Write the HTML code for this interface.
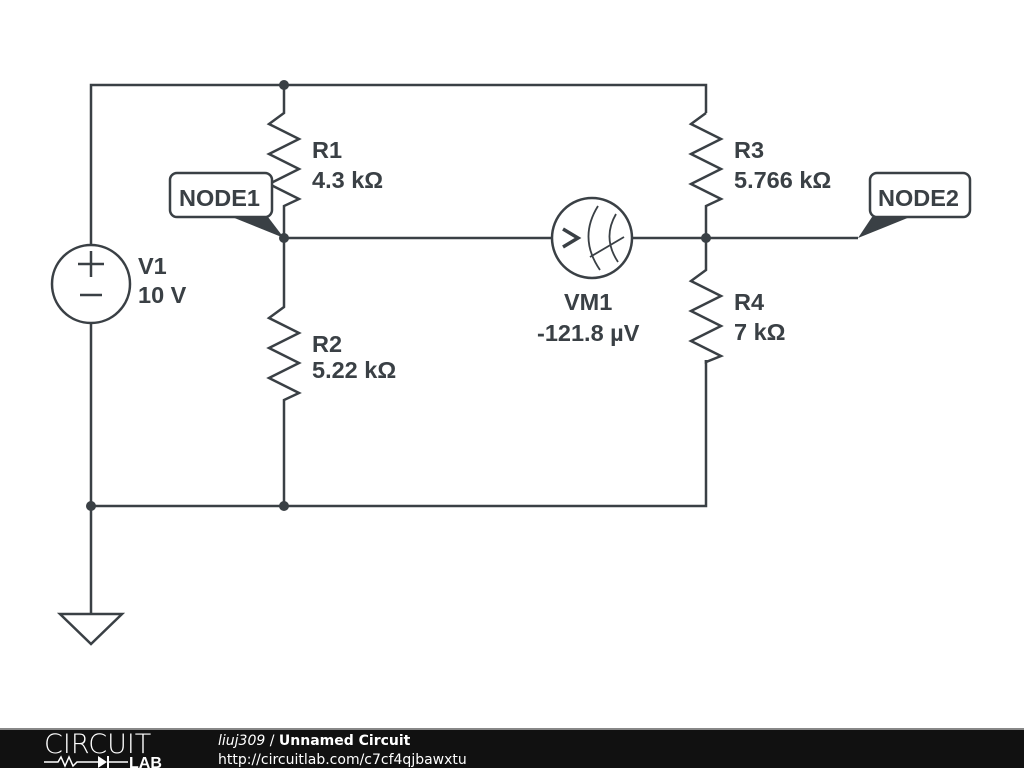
<!DOCTYPE html>
<html><head><meta charset="utf-8"><style>
body{margin:0;width:1024px;height:768px;background:#fff;overflow:hidden;font-family:"Liberation Sans",sans-serif}
</style></head><body>
<svg width="1024" height="768" viewBox="0 0 1024 768" xmlns="http://www.w3.org/2000/svg">
<g stroke="#3a4045" stroke-width="2.5" fill="none" stroke-linejoin="miter">
<polyline points="91,245 91,85 706,85 706,113"/>
<polyline points="91,323 91,614"/>
<polyline points="91,506 706,506 706,360"/>
<polygon points="60,614 122,614 91,644"/>
<circle cx="91" cy="284" r="39"/>
<line x1="78" y1="264" x2="104" y2="264"/><line x1="91" y1="251" x2="91" y2="277"/>
<line x1="80" y1="295" x2="102" y2="295"/>
<polyline points="284,85 284,113 269,124 299,139 269,154 299,169 269,184 299,199 284,206 284,238"/>
<polyline points="284,238 284,307 269,318 299,333 269,348 299,363 269,378 299,393 284,400 284,506"/>
<polyline points="706,113 691,124 721,139 691,154 721,169 691,184 721,199 706,206 706,238"/>
<polyline points="706,238 706,270 691,281 721,296 691,311 721,326 691,341 721,356 706,362 706,360"/>
<line x1="284" y1="238" x2="552" y2="238"/>
<line x1="632" y1="238" x2="858" y2="238"/>
<circle cx="592" cy="238" r="40"/>
<polyline points="563,229 578,238 563,247" stroke-width="3.5"/>
<path d="M598,206 Q578,238 600,270" stroke-width="1.8"/>
<path d="M616,214 Q602,238 618,262" stroke-width="1.8"/>
<line x1="590" y1="257" x2="624" y2="237" stroke-width="1.8"/>
<rect x="170" y="173" width="102" height="44" rx="7" fill="#fff"/>
<rect x="870" y="173" width="100" height="44" rx="7" fill="#fff"/>
</g>
<g fill="#3a4045">
<polygon points="232,217 268,217 284,238"/>
<polygon points="858,238 872,217 910,217"/>
<circle cx="284" cy="85" r="5"/><circle cx="284" cy="238" r="5"/><circle cx="706" cy="238" r="5"/>
<circle cx="284" cy="506" r="5"/><circle cx="91" cy="506" r="5"/>
</g>
<g fill="#3a4045" font-family="Liberation Sans,sans-serif" font-weight="bold" font-size="23.5">
<text x="179" y="206">NODE1</text>
<text x="878" y="206">NODE2</text>
<text x="312" y="158">R1</text><text x="312" y="188">4.3 kΩ</text>
<text x="312" y="352">R2</text><text x="312" y="378">5.22 kΩ</text>
<text x="734" y="158">R3</text><text x="734" y="188">5.766 kΩ</text>
<text x="734" y="310">R4</text><text x="734" y="340">7 kΩ</text>
<text x="138" y="274">V1</text><text x="138" y="303">10 V</text>
<text x="564" y="310">VM1</text><text x="537" y="341">-121.8 µV</text>
</g>
<rect x="0" y="729" width="1024" height="39" fill="#111"/>
<rect x="0" y="728" width="1024" height="2" fill="#888"/>
<text x="44" y="753" fill="#fff" font-size="27" font-family="DejaVu Sans,sans-serif" font-weight="200">CIRCUIT</text>
<polyline points="44,762 58,762 61,757 65,766 69,757 73,766 77,762 98,762" stroke="#fff" stroke-width="1.5" fill="none"/>
<polygon points="98,756 98,768 107,762" fill="#fff"/><line x1="108" y1="756" x2="108" y2="768" stroke="#fff" stroke-width="2"/>
<line x1="108" y1="762" x2="128" y2="762" stroke="#fff" stroke-width="1.5"/>
<text x="129" y="768" fill="#fff" font-size="16" font-weight="bold" font-family="Liberation Sans,sans-serif">LAB</text>
<text x="218" y="745" fill="#fff" font-size="14" font-family="DejaVu Sans,sans-serif"><tspan font-style="italic">liuj309</tspan> / <tspan font-weight="bold">Unnamed Circuit</tspan></text>
<text x="218" y="764" fill="#fff" font-size="14" font-family="DejaVu Sans,sans-serif">http://circuitlab.com/c7cf4qjbawxtu</text>
</svg>
</body></html>
